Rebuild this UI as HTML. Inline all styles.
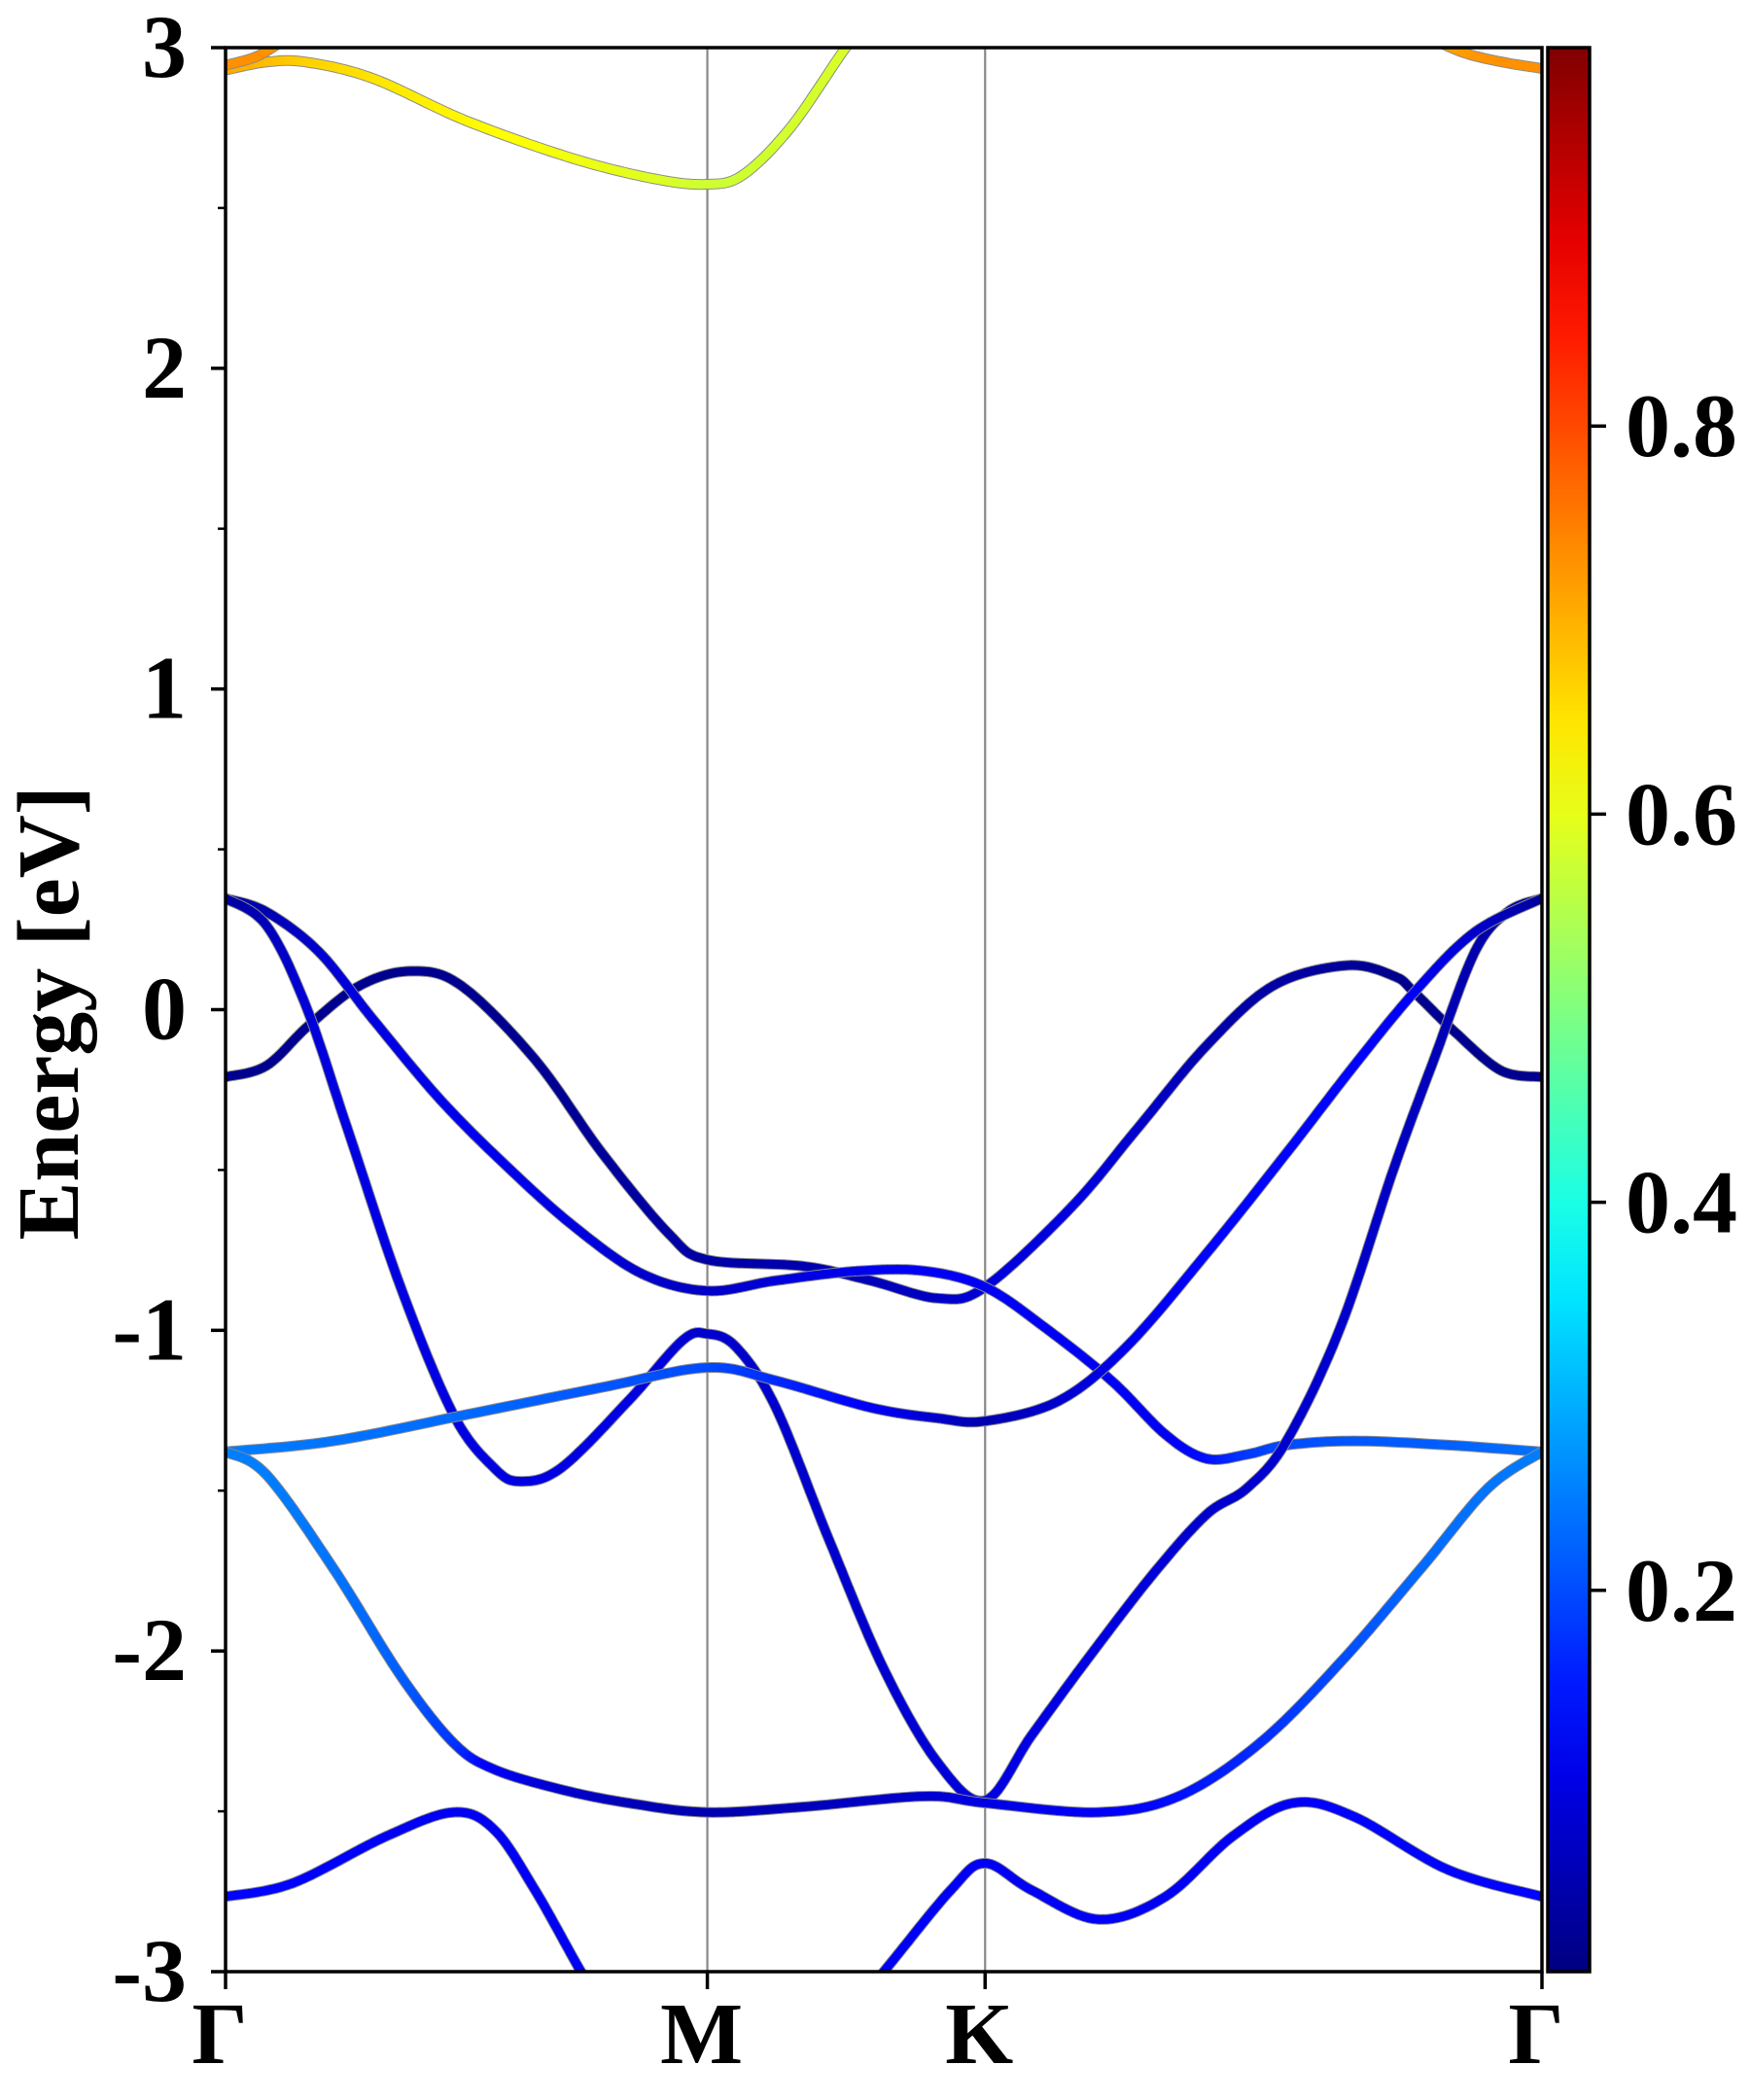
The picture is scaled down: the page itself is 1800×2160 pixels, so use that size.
<!DOCTYPE html>
<html><head><meta charset="utf-8"><style>
html,body{margin:0;padding:0;background:#fff;}
svg{display:block;}
text{font-family:"Liberation Serif","Times New Roman",serif;font-weight:bold;fill:#000;}
</style></head><body>
<svg id="chart" width="1800" height="2160" viewBox="0 0 1800 2160" xmlns="http://www.w3.org/2000/svg">
<g id="bands"></g>
<g id="axes"></g>
<g id="cbar"></g>
</svg>
<script>
// ---- data ----
const kPointLabels = ["Γ","M","K","Γ"];
const kPointPos = [0, 0.366, 0.577, 1];
const yTicks = [-3,-2,-1,0,1,2,3];
const yMinorTicks = [-2.5,-1.5,-0.5,0.5,1.5,2.5];
const cbarTicks = [0.2,0.4,0.6,0.8];
const cbarTickLabels = ["0.2","0.4","0.6","0.8"];

const band1K = [0,.031,.063,.102,.141,.179,.235,.286,.337,.366,.439,.490,.541,.577,.643,.694,.745,.796,.852,.888,.903,.934,.969,1];
const band1E = [-0.21,-0.175,-0.05,0.075,0.12,0.075,-0.155,-0.447,-0.70,-0.78,-0.80,-0.845,-0.90,-0.865,-0.614,-0.364,-0.113,0.075,0.138,0.104,0.054,-0.07,-0.19,-0.21];
const band1W = [0.02,0.02,0.02,0.02,0.02,0.02,0.02,0.03,0.04,0.04,0.05,0.06,0.07,0.09,0.1,0.08,0.05,0.04,0.03,0.02,0.02,0.02,0.02,0.02];

const band2K = [0,.031,.071,.112,.163,.214,.265,.316,.366,.418,.480,.531,.577,.622,.673,.714,.745,.776,.806,.857,.929,1];
const band2E = [0.347,0.305,0.18,-0.03,-0.28,-0.49,-0.677,-0.823,-0.877,-0.845,-0.815,-0.815,-0.865,-0.99,-1.157,-1.325,-1.40,-1.387,-1.358,-1.345,-1.358,-1.379];
const band2W = [0.03,0.05,0.08,0.1,0.11,0.11,0.1,0.08,0.07,0.09,0.11,0.12,0.12,0.12,0.12,0.12,0.14,0.18,0.2,0.21,0.22,0.24];

const band3K = [0,.031,.061,.092,.133,.173,.204,.224,.255,.306,.347,.366,.388,.418,.459,.500,.541,.577,.612,.653,.704,.745,.776,.806,.847,.888,.918,.949,.974,1];
const band3E = [0.347,0.263,0.012,-0.364,-0.865,-1.262,-1.429,-1.471,-1.429,-1.22,-1.032,-1.011,-1.053,-1.241,-1.659,-2.056,-2.348,-2.466,-2.265,-2.035,-1.763,-1.575,-1.492,-1.345,-0.99,-0.489,-0.155,0.18,0.305,0.347];
const band3W = [0.03,0.06,0.09,0.1,0.1,0.1,0.1,0.1,0.1,0.1,0.09,0.08,0.08,0.08,0.08,0.08,0.09,0.1,0.1,0.1,0.09,0.08,0.08,0.08,0.08,0.07,0.06,0.05,0.04,0.03];

const band4K = [0,.082,.184,.286,.366,.418,.490,.541,.577,.633,.684,.745,.806,.857,.903,.949,1];
const band4E = [-1.379,-1.345,-1.262,-1.178,-1.116,-1.157,-1.241,-1.274,-1.283,-1.22,-1.053,-0.761,-0.447,-0.176,0.054,0.242,0.347];
const band4W = [0.25,0.24,0.23,0.21,0.2,0.17,0.12,0.08,0.05,0.08,0.11,0.13,0.13,0.13,0.12,0.08,0.03];

const band5K = [0,.031,.082,.133,.173,.204,.255,.306,.366,.439,.531,.577,.663,.724,.786,.847,.908,.959,1];
const band5E = [-1.379,-1.45,-1.743,-2.077,-2.286,-2.369,-2.432,-2.474,-2.503,-2.486,-2.453,-2.474,-2.503,-2.453,-2.286,-2.035,-1.743,-1.492,-1.379];
const band5W = [0.25,0.25,0.24,0.22,0.18,0.12,0.08,0.06,0.05,0.06,0.08,0.1,0.12,0.14,0.17,0.2,0.23,0.24,0.25];

const band6K = [0,.051,.122,.173,.204,.235,.270,.306,.360,.420,.459,.500,.551,.577,.612,.663,.714,.765,.811,.857,.929,1];
const band6E = [-2.766,-2.724,-2.578,-2.503,-2.557,-2.745,-3.0,-3.25,-3.45,-3.42,-3.2,-3.0,-2.745,-2.662,-2.745,-2.837,-2.766,-2.578,-2.474,-2.516,-2.683,-2.766];
const band6W = [0.13,0.13,0.12,0.12,0.12,0.12,0.12,0.12,0.12,0.12,0.12,0.12,0.12,0.12,0.12,0.12,0.12,0.12,0.12,0.13,0.13,0.13];

const band7K = [0,.031,.061,.112,.184,.265,.327,.366,.393,.429,.469,.49];
const band7E = [2.93,2.955,2.955,2.904,2.77,2.653,2.59,2.574,2.603,2.75,2.988,3.1];
const band7W = [0.71,0.69,0.67,0.65,0.63,0.61,0.59,0.575,0.575,0.58,0.585,0.59];

const band8K = [0,.025,.05];
const band8E = [2.945,2.975,3.04];
const band8W = [0.73,0.73,0.73];

const band9K = [.91,.94,.97,1];
const band9E = [3.04,2.985,2.955,2.935];
const band9W = [0.71,0.72,0.73,0.73];

const bandsK = [band1K,band2K,band3K,band4K,band5K,band6K,band7K,band8K,band9K];
const bandsE = [band1E,band2E,band3E,band4E,band5E,band6E,band7E,band8E,band9E];
const bandsW = [band1W,band2W,band3W,band4W,band5W,band6W,band7W,band8W,band9W];

// ---- geometry ----
const L=232,R=1586,T=49,B=2028;
const eMin=-3,eMax=3, vMin=0.0035, vMax=0.995;
const CBL=1592,CBR=1635;
const xs=k=>L+k*(R-L);
const ys=e=>B-(e-eMin)/(eMax-eMin)*(B-T);
const cy=v=>B-(v-vMin)/(vMax-vMin)*(B-T);
const NS="http://www.w3.org/2000/svg";
function mk(tag,attrs,parent){const el=document.createElementNS(NS,tag);for(const a in attrs)el.setAttribute(a,attrs[a]);parent.appendChild(el);return el;}
function jet(t){t=Math.max(0,Math.min(1,t));
 const r=Math.max(0,Math.min(1,Math.min(4*t-1.5,-4*t+4.5)));
 const g=Math.max(0,Math.min(1,Math.min(4*t-0.5,-4*t+3.5)));
 const b=Math.max(0,Math.min(1,Math.min(4*t+0.5,-4*t+2.5)));
 return `rgb(${Math.round(r*255)},${Math.round(g*255)},${Math.round(b*255)})`;}
const wc=w=>jet((w-vMin)/(vMax-vMin));

const svg=document.getElementById('chart');
const gB=document.getElementById('bands'), gA=document.getElementById('axes'), gC=document.getElementById('cbar');
const defs=mk('defs',{},svg);
const cp=mk('clipPath',{id:'plotclip'},defs);
mk('rect',{x:L,y:T,width:R-L,height:B-T},cp);
gB.setAttribute('clip-path','url(#plotclip)');

[1,2].forEach(i=>{
 const ln=mk('line',{x1:xs(kPointPos[i]),x2:xs(kPointPos[i]),y1:T,y2:B,stroke:'#888',"stroke-width":2.2},gB);
 
 
});

function sampleBand(K,E,W){
 const P=K.map((k,i)=>[xs(k),ys(E[i]),W[i]]);const out=[];
 for(let i=0;i<P.length-1;i++){
  const p0=P[Math.max(0,i-1)],p1=P[i],p2=P[i+1],p3=P[Math.min(P.length-1,i+2)];
  const n=14;
  for(let s=0;s<n;s++){const t=s/n,t2=t*t,t3=t2*t;
   const f=(a,b,c,d)=>0.5*((2*b)+(-a+c)*t+(2*a-5*b+4*c-d)*t2+(-a+3*b-3*c+d)*t3);
   out.push([f(p0[0],p1[0],p2[0],p3[0]),f(p0[1],p1[1],p2[1],p3[1]),p1[2]+(p2[2]-p1[2])*t]);}
 }
 const last=P[P.length-1];out.push([last[0],last[1],last[2]]);return out;
}
bandsK.forEach((K,bi)=>{
 const g=mk('g',{},gB);
 
 
 const pts=sampleBand(K,bandsE[bi],bandsW[bi]);
 const d='M'+pts.map(p=>p[0].toFixed(1)+','+p[1].toFixed(1)).join('L');
 mk('path',{d:d,fill:'none',stroke:'#8a8a8a',"stroke-width":11,"stroke-linejoin":'round',"stroke-linecap":'butt'},g);
 for(let i=0;i<pts.length-1;i++){
  mk('line',{x1:pts[i][0].toFixed(1),y1:pts[i][1].toFixed(1),x2:pts[i+1][0].toFixed(1),y2:pts[i+1][1].toFixed(1),stroke:wc((pts[i][2]+pts[i+1][2])/2),"stroke-width":9,"stroke-linecap":'round'},g);
 }
});

const fr=mk('rect',{x:L,y:T,width:R-L,height:B-T,fill:'none',stroke:'#000',"stroke-width":3.5},gA);


yTicks.forEach((v,i)=>{
 mk('line',{x1:L-15,x2:L,y1:ys(v),y2:ys(v),stroke:'#000',"stroke-width":3.5},gA);
 const t=mk('text',{x:192,y:ys(v)+30,"text-anchor":'end',"font-size":92},gA);
 t.textContent=String(v);
 
 
});
yMinorTicks.forEach(v=>{mk('line',{x1:L-8,x2:L,y1:ys(v),y2:ys(v),stroke:'#000',"stroke-width":2.5},gA);});
kPointPos.forEach((k,i)=>{
 mk('line',{x1:xs(k),x2:xs(k),y1:B,y2:B+18,stroke:'#000',"stroke-width":3.5},gA);
 const t=mk('text',{x:xs(k)-6,y:2122,"text-anchor":'middle',"font-size":90},gA);
 t.textContent=kPointLabels[i];
 
 
});
const yl=mk('text',{x:0,y:0,"text-anchor":'middle',"font-size":90,transform:'translate(80,1042) rotate(-90)'},gA);
yl.textContent='Energy [eV]';



const lg=mk('linearGradient',{id:'jetgrad',x1:0,y1:1,x2:0,y2:0},defs);
for(let i=0;i<=20;i++){const t=i/20;mk('stop',{offset:t,"stop-color":jet(t)},lg);}
const cb=mk('rect',{x:CBL,y:T,width:CBR-CBL,height:B-T,fill:'url(#jetgrad)',stroke:'#000',"stroke-width":3.5},gC);


cbarTicks.forEach((v,i)=>{
 mk('line',{x1:CBR,x2:CBR+17,y1:cy(v),y2:cy(v),stroke:'#000',"stroke-width":3.5},gC);
 const t=mk('text',{x:1672,y:cy(v)+31,"font-size":92},gC);
 t.textContent=cbarTickLabels[i];
 
 
});
</script>
</body></html>
